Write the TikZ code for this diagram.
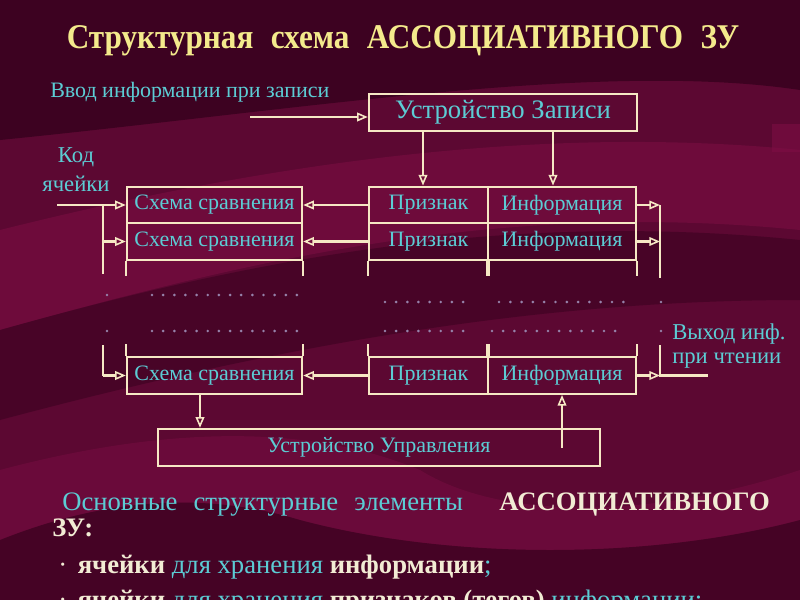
\documentclass[tikz,border=0pt]{standalone}
\usepackage{fontspec}
\setmainfont{Liberation Serif}
\newfontfamily\condf[FakeStretch=0.9]{Liberation Serif}
\usetikzlibrary{arrows.meta,calc}
\definecolor{bgbase}{RGB}{92,8,50}
\definecolor{bgdark}{RGB}{48,0,26}
\definecolor{bglight}{RGB}{125,14,68}
\definecolor{linec}{RGB}{246,232,196}
\definecolor{cyant}{RGB}{92,204,212}
\definecolor{titlec}{RGB}{244,234,140}
\definecolor{cream}{RGB}{242,236,212}
\definecolor{dotc}{RGB}{150,130,170}
\tikzset{
  ln/.style={draw=linec, line width=1.8pt},
  arr/.style={ln, -{Triangle[open, length=8pt, width=6.5pt, line width=1.2pt]}},
  cell/.style={ln, rectangle, inner sep=0pt, minimum height=27.4pt, text=cyant, font=\fontsize{16.5}{18}\selectfont},
  lbl/.style={text=cyant, inner sep=0pt, font=\fontsize{16.5}{19}\selectfont},
}
\begin{document}
\begin{tikzpicture}[x=0.75pt,y=-0.75pt]
% background
\useasboundingbox (0,0) rectangle (800,600);
\fill[bgbase] (0,0) rectangle (800,600);
\fill[bgdark, opacity=0.7] (0,0) -- (800,0) -- (800,90) .. controls (600,60) and (300,110) .. (0,140) -- cycle;
\fill[bglight, opacity=0.55] (0,230) .. controls (200,180) and (500,120) .. (800,150) -- (800,230) .. controls (500,200) and (250,260) .. (0,330) -- cycle;
\fill[bgdark, opacity=0.45] (0,330) .. controls (250,260) and (500,210) .. (800,240) -- (800,300) .. controls (550,300) and (300,340) .. (0,420) -- cycle;
\fill[bglight, opacity=0.45] (0,470) .. controls (150,430) and (300,420) .. (420,470) .. controls (500,520) and (650,520) .. (800,470) -- (800,520) .. controls (650,560) and (450,560) .. (300,520) .. controls (200,490) and (100,500) .. (0,540) -- cycle;
\fill[bgdark, opacity=0.5] (0,540) .. controls (100,500) and (200,490) .. (300,520) .. controls (450,560) and (650,560) .. (800,520) -- (800,600) -- (0,600) -- cycle;
\fill[bglight, opacity=0.6] (772,124) rectangle (800,152);

% title
\node[text=titlec, font=\condf\fontsize{26}{30}\selectfont\bfseries, anchor=base] (title) at (403,48) {Структурная\hspace{0.5em}схема\hspace{0.5em}АССОЦИАТИВНОГО\hspace{0.5em}ЗУ};

% write device
\node[cell, minimum width=201pt, minimum height=27.75pt, font=\fontsize{20}{22}\selectfont] (zap) at (503,112.5) {Устройство Записи};
\node[lbl, anchor=base west] (vvod) at (50,97) {Ввод информации при записи};
\coordinate (inw) at (250,117);
\draw[arr] (inw) -- (inw -| zap.west);

% cells
\node[cell, minimum width=131.25pt] (s1) at (214.5,205) {Схема сравнения};
\node[cell, minimum width=131.25pt] (s2) at (214.5,241.5) {Схема сравнения};
\node[cell, minimum width=131.25pt] (s3) at (214.5,375.5) {Схема сравнения};
\node[cell, minimum width=89.25pt] (p1) at (428.5,205) {Признак};
\node[cell, minimum width=89.25pt] (p2) at (428.5,241.5) {Признак};
\node[cell, minimum width=89.25pt] (p3) at (428.5,375.5) {Признак};
\node[cell, minimum width=111pt] (i1) at (562,205) {Информация};
\node[cell, minimum width=111pt] (i2) at (562,241.5) {Информация};
\node[cell, minimum width=111pt] (i3) at (562,375.5) {Информация};

% extension stubs
\foreach \n in {s2,p2,i2} {
  \draw[ln] (\n.south west) -- ++(0,15);
  \draw[ln] (\n.south east) -- ++(0,15);
}
\foreach \n in {s3,p3,i3} {
  \draw[ln] (\n.north west) -- ++(0,-12);
  \draw[ln] (\n.north east) -- ++(0,-12);
}

% write arrows
\draw[arr] (423,0 |- zap.south) -- (423,0 |- p1.north);
\draw[arr] (553,0 |- zap.south) -- (553,0 |- i1.north);

% code input and bus
\node[lbl, align=center, font=\fontsize{17}{19}\selectfont] (kod) at (76,170) {Код\\[3pt]ячейки};
\coordinate (kin) at (57,205);
\coordinate (bl1) at (103,205);
\coordinate (bl2) at (103,274);
\coordinate (bl3) at (103,345);
\coordinate (bl4) at (103,375.5);
\draw[arr] (kin) -- (s1.west);
\draw[ln] (bl1) -- (bl2);
\draw[arr] (103,0 |- s2.west) -- (s2.west);
\draw[ln] (bl3) -- (bl4);
\draw[arr] (bl4) -- (s3.west);

% compare arrows
\draw[arr] (p1.west) -- (s1.east);
\draw[arr] (p2.west) -- (s2.east);
\draw[arr] (p3.west) -- (s3.east);

% output side
\coordinate (br1) at (660,205);
\coordinate (br2) at (660,278);
\coordinate (br3) at (660,345);
\coordinate (br4) at (660,375.5);
\coordinate (outx) at (708,375.5);
\draw[arr] (i1.east) -- (br1);
\draw[arr] (i2.east) -- (660,0 |- i2.east);
\draw[arr] (i3.east) -- (br4);
\draw[ln] (br1) -- (br2);
\draw[ln] (br3) -- (br4) -- (outx);
\node[lbl, anchor=base west, font=\fontsize{17}{19}\selectfont] (vyh1) at (672,339) {Выход инф.};
\node[lbl, anchor=base west, font=\fontsize{17}{19}\selectfont] (vyh2) at (672,363) {при чтении};

% control device
\node[cell, minimum width=331.5pt, minimum height=27.75pt] (upr) at (379,447.5) {Устройство Управления};
\draw[arr] (200,0 |- s3.south) -- (200,0 |- upr.north);
\coordinate (uin) at (562,448);
\draw[arr] (uin) -- (i3.south);

% dots
\foreach \y in {295,331} \fill[dotc] (107,\y) circle (1.1pt);
\foreach \y in {302,331} \fill[dotc] (661,\y) circle (1.1pt);
\foreach \i in {0,...,13} {\fill[dotc] (152+\i*11.15,295) circle (1.1pt); \fill[dotc] (152+\i*11.15,331) circle (1.1pt);}
\foreach \i in {0,...,7} {\fill[dotc] (385+\i*11.15,302) circle (1.1pt); \fill[dotc] (385+\i*11.15,331) circle (1.1pt);}
\foreach \i in {0,...,11} {\fill[dotc] (499+\i*11.3,302) circle (1.1pt); \fill[dotc] (492+\i*11.2,331) circle (1.1pt);}

% bottom text
\node[anchor=base west, inner sep=0pt, text=cyant, font=\fontsize{20}{24}\selectfont] (osn) at (62,510) {Основные\hspace{0.6em}структурные\hspace{0.6em}элементы};
\node[anchor=base east, inner sep=0pt, text=cream, font=\fontsize{20}{24}\selectfont\bfseries] (assoc) at (770,510) {АССОЦИАТИВНОГО};
\node[anchor=base west, inner sep=0pt, text=cream, font=\fontsize{20}{24}\selectfont\bfseries] (zu) at (52,536) {ЗУ:};
\node[anchor=base west, inner sep=0pt, font=\fontsize{20}{24}\selectfont] (b1) at (58,573) {\color{cream}·\hspace{0.4em}\textbf{ячейки} \color{cyant}для хранения \color{cream}\textbf{информации}\color{cyant};};
\node[anchor=base west, inner sep=0pt, font=\fontsize{20}{24}\selectfont] (b2) at (58,608) {\color{cream}·\hspace{0.4em}\textbf{ячейки} \color{cyant}для хранения \color{cream}\textbf{признаков (тегов)} \color{cyant}информации;};
\end{tikzpicture}
\end{document}
